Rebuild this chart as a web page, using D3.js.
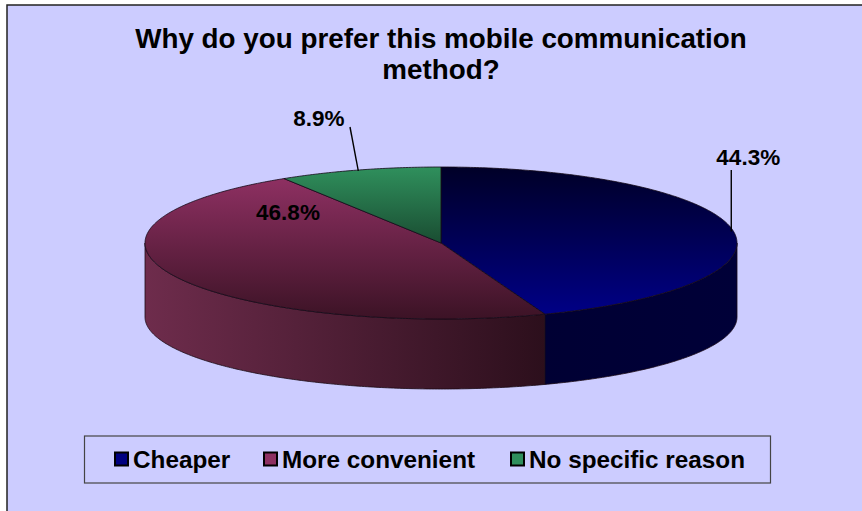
<!DOCTYPE html>
<html>
<head>
<meta charset="utf-8">
<script src="https://cdn.jsdelivr.net/npm/d3@7"></script>
<style>
  html, body { margin: 0; padding: 0; background: #ffffff; }
  svg { display: block; }
  text { font-family: "Liberation Sans", Arial, sans-serif; font-weight: bold; fill: #000; }
</style>
</head>
<body>
<svg id="chart" width="862" height="511"></svg>
<script>
// Survey answers and their shares (%)
const categories = ["Cheaper", "More convenient", "No specific reason"];
const shares = [44.3, 46.8, 8.9];
const shareLabels = ["44.3%", "46.8%", "8.9%"];
const titleLines = ["Why do you prefer this mobile communication", "method?"];

const svg = d3.select("#chart");
const W = 862, H = 511;

// chart frame
svg.append("rect")
  .attr("x", 7).attr("y", 5).attr("width", W + 10).attr("height", H + 10)
  .attr("fill", "#ccccff").attr("stroke", "#222").attr("stroke-width", 1.5);

// title
svg.append("g").selectAll("text").data(titleLines).join("text")
  .attr("x", 441).attr("y", (d, i) => 48 + i * 31)
  .attr("text-anchor", "middle")
  .attr("font-size", 27.8)
  .text(d => d);

// 3-D pie geometry: top rim ellipse and bottom rim ellipse
const cx = 441, rx = 296;
const topE = { cy: 243, ry: 76 };
const botE = { cy: 317, ry: 72 };
const proj = (a, e) => [cx + rx * Math.sin(a), e.cy - e.ry * Math.cos(a)];

const pie = d3.pie().sort(null).value(d => d).startAngle(0).endAngle(2 * Math.PI);
const arcs = pie(shares);

const defs = svg.append("defs");
const topStops = [
  [["0%", "#000028"], ["100%", "#000088"]],
  [["0%", "#8e3062"], ["100%", "#3a1224"]],
  [["0%", "#2f8f5c"], ["100%", "#194a30"]]
];
const topRanges = [[168, 318], [178, 322], [168, 246]];
topStops.forEach((stops, i) => {
  const g = defs.append("linearGradient").attr("id", "top" + i)
    .attr("gradientUnits", "userSpaceOnUse")
    .attr("x1", 0).attr("x2", 0).attr("y1", topRanges[i][0]).attr("y2", topRanges[i][1]);
  stops.forEach(s => g.append("stop").attr("offset", s[0]).attr("stop-color", s[1]));
});
const sideStops = [
  [["0%", "#00002a"], ["100%", "#000038"]],
  [["0%", "#6e2c4c"], ["100%", "#2c0f1c"]],
  [["0%", "#1e5a3a"], ["100%", "#10301f"]]
];
sideStops.forEach((stops, i) => {
  const g = defs.append("linearGradient").attr("id", "side" + i)
    .attr("gradientUnits", "userSpaceOnUse")
    .attr("x1", cx - rx).attr("x2", cx + rx).attr("y1", 0).attr("y2", 0);
  if (i === 1) g.attr("x1", cx - rx).attr("x2", 545);
  stops.forEach(s => g.append("stop").attr("offset", s[0]).attr("stop-color", s[1]));
});

const sample = (a0, a1, e) => {
  const n = Math.max(2, Math.ceil((a1 - a0) / 0.01));
  return d3.range(n + 1).map(k => proj(a0 + (a1 - a0) * k / n, e));
};
const line = d3.line();

// side walls: only the front half (angles between pi/2 and 3pi/2) is visible
const sides = svg.append("g");
arcs.forEach((d, i) => {
  const a0 = Math.max(d.startAngle, Math.PI / 2);
  const a1 = Math.min(d.endAngle, 3 * Math.PI / 2);
  if (a1 <= a0) return;
  const pts = sample(a0, a1, topE).concat(sample(a0, a1, botE).reverse());
  sides.append("path")
    .attr("d", line(pts) + "Z")
    .attr("fill", `url(#side${i})`)
    .attr("stroke", "#1a0a14").attr("stroke-width", 0.8).attr("stroke-linejoin", "round");
});

// top faces
const tops = svg.append("g");
arcs.forEach((d, i) => {
  const pts = [[cx, topE.cy]].concat(sample(d.startAngle, d.endAngle, topE));
  tops.append("path")
    .attr("d", line(pts) + "Z")
    .attr("fill", `url(#top${i})`)
    .attr("stroke", "#140a18").attr("stroke-width", 0.8).attr("stroke-linejoin", "round");
});

// data labels, anchored at each slice's mid-angle on the top rim
const labels = svg.append("g");
arcs.forEach((d, i) => {
  const mid = (d.startAngle + d.endAngle) / 2;
  const [ax, ay] = proj(mid, topE);
  if (i === 0) {
    labels.append("line").attr("x1", ax - 1).attr("y1", ay + 2).attr("x2", ax - 1).attr("y2", 170)
      .attr("stroke", "#000").attr("stroke-width", 1.4);
    labels.append("text").attr("x", ax + 16).attr("y", 165).attr("text-anchor", "middle")
      .attr("font-size", 22.5).text(shareLabels[i]);
  } else if (i === 1) {
    labels.append("text").attr("x", 288).attr("y", 220).attr("text-anchor", "middle")
      .attr("font-size", 22.5).text(shareLabels[i]);
  } else {
    labels.append("line").attr("x1", ax - 1).attr("y1", ay + 1).attr("x2", 350).attr("y2", 127)
      .attr("stroke", "#000").attr("stroke-width", 1.4);
    labels.append("text").attr("x", 319).attr("y", 126).attr("text-anchor", "middle")
      .attr("font-size", 22.5).text(shareLabels[i]);
  }
});

// legend
const legend = svg.append("g");
legend.append("rect").attr("x", 84.5).attr("y", 436).attr("width", 686).attr("height", 47)
  .attr("fill", "none").attr("stroke", "#444").attr("stroke-width", 1.2);
const swatchColors = ["#000080", "#8e3062", "#2f8f5c"];
const itemX = [115, 264, 511];
categories.forEach((c, i) => {
  legend.append("rect").attr("x", itemX[i]).attr("y", 452.5).attr("width", 13).attr("height", 13)
    .attr("fill", swatchColors[i]).attr("stroke", "#000").attr("stroke-width", 2);
  legend.append("text").attr("x", itemX[i] + 18).attr("y", 468).attr("font-size", 24.3).text(c);
});
</script>
</body>
</html>
